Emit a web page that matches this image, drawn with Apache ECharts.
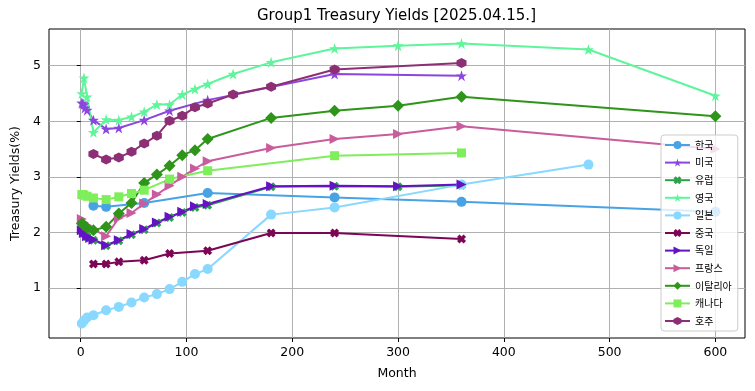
<!DOCTYPE html>
<html><head><meta charset="utf-8">
<script src="https://cdn.jsdelivr.net/npm/echarts@6/dist/echarts.min.js"></script>
<style>html,body{margin:0;padding:0;background:#fff}#c{width:755px;height:391px}</style>
</head><body><div id="c"></div>
<script>
// ---- data (months to maturity, yields in %) ----
const xTicks = [0, 100, 200, 300, 400, 500, 600];
const yTicks = [1, 2, 3, 4, 5];

const korMonths = [12, 24, 60, 120, 240, 360, 600];
const korYields = [2.48, 2.46, 2.53, 2.71, 2.63, 2.55, 2.37];

const usaMonths = [1, 2, 3, 4, 6, 12, 24, 36, 60, 84, 120, 240, 360];
const usaYields = [4.33, 4.32, 4.30, 4.24, 4.20, 4.02, 3.86, 3.88, 4.02, 4.19, 4.38, 4.85, 4.82];

const eurMonths = [3, 6, 12, 24, 36, 48, 60, 72, 84, 96, 108, 120, 180, 240, 300, 360];
const eurYields = [1.98, 1.92, 1.86, 1.76, 1.85, 1.96, 2.05, 2.17, 2.27, 2.36, 2.45, 2.49, 2.82, 2.83, 2.82, 2.85];

const gbrMonths = [1, 3, 6, 12, 24, 36, 48, 60, 72, 84, 96, 108, 120, 144, 180, 240, 300, 360, 480, 600];
const gbrYields = [4.50, 4.78, 4.44, 3.80, 4.03, 4.02, 4.08, 4.17, 4.30, 4.30, 4.48, 4.58, 4.67, 4.85, 5.06, 5.31, 5.36, 5.40, 5.29, 4.46];

const jpnMonths = [1, 3, 6, 12, 24, 36, 48, 60, 72, 84, 96, 108, 120, 180, 240, 360, 480];
const jpnYields = [0.36, 0.41, 0.47, 0.51, 0.60, 0.66, 0.74, 0.83, 0.89, 0.98, 1.11, 1.25, 1.34, 2.32, 2.45, 2.86, 3.22];

const chnMonths = [12, 24, 36, 60, 84, 120, 180, 240, 360];
const chnYields = [1.43, 1.43, 1.47, 1.50, 1.62, 1.67, 1.99, 1.99, 1.88];

const deuMonths = [1, 3, 6, 9, 12, 24, 36, 48, 60, 72, 84, 96, 108, 120, 180, 240, 300, 360];
const deuYields = [2.04, 1.99, 1.93, 1.90, 1.87, 1.77, 1.86, 1.97, 2.06, 2.18, 2.28, 2.37, 2.47, 2.51, 2.83, 2.84, 2.83, 2.86];

const fraMonths = [1, 3, 6, 12, 24, 36, 48, 60, 72, 84, 96, 108, 120, 180, 240, 300, 360, 600];
const fraYields = [2.24, 2.18, 2.13, 2.06, 1.93, 2.26, 2.35, 2.52, 2.68, 2.84, 3.00, 3.15, 3.28, 3.52, 3.68, 3.77, 3.91, 3.50];

const itaMonths = [1, 3, 6, 12, 24, 36, 48, 60, 72, 84, 96, 108, 120, 180, 240, 300, 360, 600];
const itaYields = [2.16, 2.13, 2.08, 2.04, 2.10, 2.34, 2.53, 2.89, 3.04, 3.20, 3.39, 3.48, 3.68, 4.06, 4.19, 4.28, 4.44, 4.09];

const canMonths = [1, 2, 3, 6, 12, 24, 36, 48, 60, 84, 120, 240, 360];
const canYields = [2.68, 2.68, 2.67, 2.65, 2.62, 2.59, 2.64, 2.70, 2.76, 2.96, 3.11, 3.38, 3.43];

const ausMonths = [12, 24, 36, 48, 60, 72, 84, 96, 108, 120, 144, 180, 240, 360];
const ausYields = [3.41, 3.31, 3.35, 3.45, 3.60, 3.74, 4.01, 4.10, 4.25, 4.32, 4.48, 4.62, 4.93, 5.05];

// ---- styling ----
const STAR = 'path://M0,-1L0.2245,-0.309L0.951,-0.309L0.363,0.118L0.588,0.809L0,0.382L-0.588,0.809L-0.363,0.118L-0.951,-0.309L-0.2245,-0.309Z';
const XMARK = 'path://M-1,-0.45L-0.45,-1L0,-0.55L0.45,-1L1,-0.45L0.55,0L1,0.45L0.45,1L0,0.55L-0.45,1L-1,0.45L-0.55,0Z';
const TRI_R = 'path://M-1,-1L1,0L-1,1Z';
const HEX = 'path://M0,-1L0.866,-0.5L0.866,0.5L0,1L-0.866,0.5L-0.866,-0.5Z';

const seriesDefs = [
  {name: '한국', m: korMonths, v: korYields, color: '#47a3e3', symbol: 'circle', size: 10},
  {name: '미국', m: usaMonths, v: usaYields, color: '#8b46e0', symbol: STAR, size: 11},
  {name: '유럽', m: eurMonths, v: eurYields, color: '#2ea24a', symbol: XMARK, size: 9},
  {name: '영국', m: gbrMonths, v: gbrYields, color: '#5ef59b', symbol: STAR, size: 11},
  {name: '일본', m: jpnMonths, v: jpnYields, color: '#88d8ff', symbol: 'circle', size: 10},
  {name: '중국', m: chnMonths, v: chnYields, color: '#7c0655', symbol: XMARK, size: 9},
  {name: '독일', m: deuMonths, v: deuYields, color: '#6512c4', symbol: TRI_R, size: 10},
  {name: '프랑스', m: fraMonths, v: fraYields, color: '#c85c9c', symbol: TRI_R, size: 10},
  {name: '이탈리아', m: itaMonths, v: itaYields, color: '#2e951a', symbol: 'diamond', size: 12},
  {name: '캐나다', m: canMonths, v: canYields, color: '#7fee5b', symbol: 'rect', size: 9},
  {name: '호주', m: ausMonths, v: ausYields, color: '#8c2f75', symbol: HEX, size: 10}
];

const FONT = 'DejaVu Sans';
const chart = echarts.init(document.getElementById('c'), null, {renderer: 'canvas'});
chart.setOption({
  animation: false,
  backgroundColor: '#ffffff',
  title: {
    text: 'Group1 Treasury Yields [2025.04.15.]',
    left: 257, top: 9, padding: 0,
    textStyle: {fontFamily: FONT, fontSize: 15, fontWeight: 'normal', color: '#000'}
  },
  grid: {left: 49, right: 10, top: 29, bottom: 53, show: true, borderColor: '#000', borderWidth: 1, backgroundColor: 'transparent'},
  legend: {
    orient: 'vertical', left: 661, top: 135,
    padding: [5, 6, 5, 3], itemGap: 7.6, itemWidth: 25, itemHeight: 10,
    backgroundColor: 'rgba(255,255,255,0.8)', borderColor: '#cccccc', borderWidth: 1, borderRadius: 3,
    textStyle: {fontFamily: 'Noto Sans CJK KR', fontSize: 10, lineHeight: 10, color: '#000'},
    data: seriesDefs.map(d => d.name)
  },
  xAxis: {
    type: 'value', min: -30, max: 628,
    name: 'Month', nameLocation: 'middle', nameGap: 29,
    nameTextStyle: {fontFamily: FONT, fontSize: 12.5, color: '#000'},
    axisLine: {show: false},
    axisTick: {show: true, length: 4, customValues: xTicks, lineStyle: {color: '#000'}},
    axisLabel: {customValues: xTicks, margin: 8, fontFamily: FONT, fontSize: 12.5, color: '#000'},
    splitLine: {show: true, lineStyle: {color: '#b0b0b0', width: 1}}
  },
  yAxis: {
    type: 'value', min: 0.1, max: 5.66,
    name: 'Treasury Yields(%)', nameLocation: 'middle', nameGap: 25,
    nameTextStyle: {fontFamily: FONT, fontSize: 12.5, color: '#000'},
    axisLine: {show: false},
    axisTick: {show: true, length: 4, customValues: yTicks, lineStyle: {color: '#000'}},
    axisLabel: {customValues: yTicks, margin: 8, fontFamily: FONT, fontSize: 12.5, color: '#000'},
    splitLine: {show: true, lineStyle: {color: '#b0b0b0', width: 1}}
  },
  series: seriesDefs.map(d => ({
    name: d.name, type: 'line',
    data: d.m.map((mm, i) => [mm, d.v[i]]),
    symbol: d.symbol, symbolSize: d.size,
    showSymbol: true, showAllSymbol: true,
    lineStyle: {width: 2, color: d.color},
    itemStyle: {color: d.color, borderWidth: 0},
    emphasis: {disabled: true}
  }))
});
</script></body></html>
